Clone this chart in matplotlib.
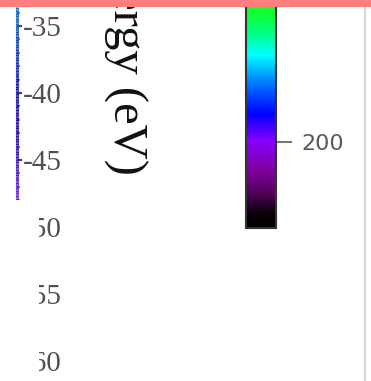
import numpy as np
import matplotlib
matplotlib.use("Agg")
import matplotlib.pyplot as plt
from matplotlib.collections import LineCollection
from matplotlib.colors import LinearSegmentedColormap, Normalize
from matplotlib.cm import ScalarMappable
from matplotlib.patches import Rectangle
from matplotlib.lines import Line2D

# energy axis ticks (eV)
energy_major = [-35, -40, -45, -50, -55, -60]
energy_minor = list(range(-34, -49, -1))
energy_label = "Energy (eV)"

# intensity colour scale
cbar_range = (0, 530)
cbar_ticks = [200]

plt.rcParams["axes.unicode_minus"] = False

W, H = 371, 381
fig = plt.figure(figsize=(W / 100, H / 100), dpi=100)


def fx(px):  # pixel column -> figure fraction
    return px / W


def fy(py):  # pixel row (from top) -> figure fraction
    return 1 - py / H


# energy axis: only the spine + ticks, labels sit to the right of it
px_per_ev = 13.4
e_top = -35 + (26 - 7) / px_per_ev
e_bot = -35 - (H - 26) / px_per_ev
e_end = -35 - (200 - 26) / px_per_ev

ax = fig.add_axes([0, 0, fx(17), (H - 7) / H])
ax.set_ylim(e_bot, e_top)
ax.set_xlim(0, 1)
for s in ax.spines.values():
    s.set_visible(False)
ax.patch.set_visible(False)
ax.set_xticks([])
ax.yaxis.tick_right()
ax.set_yticks(energy_major)
ax.set_yticks(energy_minor, minor=True)
ax.tick_params(axis="y", which="major", direction="out", length=3.6, width=1.5,
               color="#444444", pad=0.8, labelsize=21, labelcolor="#505050")
ax.tick_params(axis="y", which="minor", direction="out", length=2.0, width=1.2,
               color="#666688")
for lbl in ax.get_yticklabels():
    lbl.set_fontfamily("Liberation Serif")

# spine drawn as a blue -> violet gradient
spine_cmap = LinearSegmentedColormap.from_list(
    "spine", [(0, "#6a30d8"), (0.3, "#3010b8"), (0.6, "#1818b0"), (1, "#1a74cc")])
ys = np.linspace(e_end, e_top, 120)
pts = np.column_stack([np.ones_like(ys), ys]).reshape(-1, 1, 2)
segs = np.concatenate([pts[:-1], pts[1:]], axis=1)
lc = LineCollection(segs, colors=spine_cmap(np.linspace(0, 1, len(segs))),
                    linewidths=2.2, transform=ax.get_yaxis_transform(),
                    clip_on=False, zorder=5)
ax.add_collection(lc)

# energy label, rotated, running off the top edge
fig.text(fx(125), fy(175), energy_label, rotation=270, ha="center", va="bottom",
         fontsize=35, family="Liberation Serif", color="#111111")

# colour bar
cb_cmap = LinearSegmentedColormap.from_list("spec", [
    (0.0, (0, 0, 0)),
    (0.057, (0.02, 0, 0.02)),
    (0.145, (0.3, 0, 0.32)),
    (0.25, (0.5, 0, 0.62)),
    (0.386, (0.52, 0, 1)),
    (0.50, (0, 0, 1)),
    (0.63, (0, 0.45, 1)),
    (0.76, (0, 1, 1)),
    (0.86, (0, 1, 0.5)),
    (1.0, (0.1, 1, 0)),
])
cax = fig.add_axes([fx(246), fy(228), fx(30), 228 / H])
sm = ScalarMappable(norm=Normalize(*cbar_range), cmap=cb_cmap)
cb = fig.colorbar(sm, cax=cax, ticks=cbar_ticks)
cb.outline.set_edgecolor("#333333")
cb.outline.set_linewidth(1.5)
cax.tick_params(length=11.5, width=1.5, color="#777777", pad=6.5,
                labelsize=16, labelcolor="#5a5a5a")
for lbl in cax.get_yticklabels():
    lbl.set_fontfamily("DejaVu Sans")

# white block trimming the lower energy labels
fig.add_artist(Rectangle((0, 0), fx(39), fy(200), transform=fig.transFigure,
                         facecolor="white", edgecolor="none", zorder=15))

# light divider on the right and the header strip
fig.add_artist(Line2D([fx(365), fx(365)], [0, fy(7)], transform=fig.transFigure,
                      color="#d9d9d9", lw=1.5, zorder=15))
fig.add_artist(Rectangle((0, fy(7)), 1, 7 / H, transform=fig.transFigure,
                         facecolor="#ff7f7f", edgecolor="none", zorder=20))

fig.savefig("out.png", dpi=100)
